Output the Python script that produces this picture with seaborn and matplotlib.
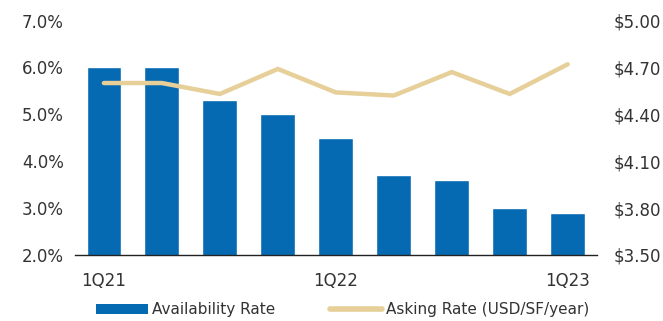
import numpy as np
import seaborn as sns
import matplotlib.pyplot as plt
from matplotlib.patches import Patch
from matplotlib.lines import Line2D

# -----------------------------
quarters = ["1Q21", "2Q21", "3Q21", "4Q21", "1Q22", "2Q22", "3Q22", "4Q22", "1Q23"]
availability = [6.0, 6.0, 5.3, 5.0, 4.5, 3.7, 3.6, 3.0, 2.9]
asking = [4.60, 4.60, 4.53, 4.69, 4.54, 4.52, 4.67, 4.53, 4.72]
shown_ticks = ["1Q21", "1Q22", "1Q23"]

blue = "#066AB3"
tan = "#E6CF98"
txt = "#333333"

sns.set_style("white")
plt.rcParams["font.family"] = ["DejaVu Sans"]

fig = plt.figure(figsize=(6.63, 3.21), dpi=100)
ax = fig.add_axes([0.113, 0.206, 0.787, 0.73])

sns.barplot(x=quarters, y=availability, color=blue, width=0.6,
            saturation=1, ax=ax)
ax.set_ylim(2.0, 7.0)
ax.set_yticks(np.arange(2.0, 7.01, 1.0))
ax.set_yticklabels([f"{v:.1f}%" for v in np.arange(2.0, 7.01, 1.0)],
                   fontsize=12, color=txt)
ax.set_xlim(-0.5, len(quarters) - 0.5)
ax.set_xticks(range(len(quarters)))
ax.set_xticklabels([q if q in shown_ticks else "" for q in quarters],
                   fontsize=12, color=txt)
ax.tick_params(axis="y", length=0, pad=8)
ax.tick_params(axis="x", length=0, pad=12)
ax.set_xlabel("")
ax.set_ylabel("")

ax2 = ax.twinx()
sns.lineplot(x=np.arange(len(quarters)), y=asking, color=tan, linewidth=3.2,
             solid_capstyle="round", solid_joinstyle="miter", ax=ax2)
ax2.set_ylim(3.50, 5.00)
ax2.set_yticks(np.arange(3.50, 5.01, 0.30))
ax2.set_yticklabels([f"${v:.2f}" for v in np.arange(3.50, 5.01, 0.30)],
                    fontsize=12, color=txt)
ax2.tick_params(axis="y", length=0, pad=12)
ax2.set_ylabel("")

for a in (ax, ax2):
    for s in ["top", "left", "right", "bottom"]:
        a.spines[s].set_visible(False)
ax.spines["bottom"].set_visible(True)
ax.spines["bottom"].set_color("#222222")
ax.spines["bottom"].set_linewidth(1.0)

handles = [Patch(facecolor=blue, edgecolor="none", label="Availability Rate"),
           Line2D([0], [0], color=tan, linewidth=4, label="Asking Rate (USD/SF/year)")]
fig.legend(handles=handles, loc="center", bbox_to_anchor=(0.517, 0.035), ncol=2,
           frameon=False, fontsize=11, handlelength=3.4, handleheight=0.6,
           handletextpad=0.26, columnspacing=3.6, labelcolor=txt,
           borderpad=0, borderaxespad=0)

fig.savefig("out.png", dpi=100)
